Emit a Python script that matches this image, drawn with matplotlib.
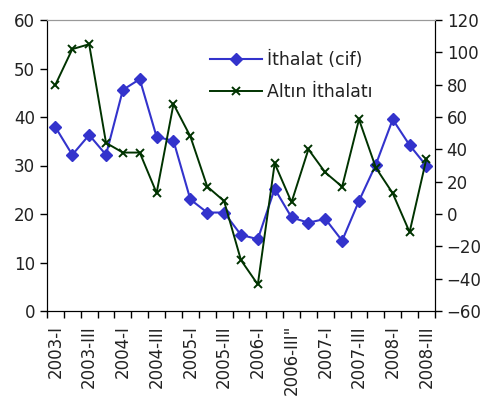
import numpy as np
import matplotlib.pyplot as plt
from matplotlib.ticker import FixedLocator

quarters = ["2003-I", "2003-II", "2003-III", "2003-IV",
            "2004-I", "2004-II", "2004-III", "2004-IV",
            "2005-I", "2005-II", "2005-III", "2005-IV",
            "2006-I", "2006-II", "2006-III\"", "2006-IV",
            "2007-I", "2007-II", "2007-III", "2007-IV",
            "2008-I", "2008-II", "2008-III"]

ithalat = [37.9, 32.2, 36.3, 32.2, 45.6, 47.8, 35.9, 35.1, 23.0, 20.3, 20.3, 15.7,
           14.8, 25.2, 19.3, 18.2, 19.0, 14.5, 22.7, 30.2, 39.5, 34.2, 29.9]

altin = [80, 102, 105, 44, 38, 38, 13, 68, 48, 17, 8, -28.5,
         -43.6, 31.3, 7.3, 40, 25.7, 16.9, 58.5, 28.6, 12.8, -11.2, 34.3]

plt.rcParams.update({'font.size': 11, 'font.family': 'DejaVu Sans'})

fig = plt.figure(figsize=(4.87, 4.0), dpi=100)
ax = fig.add_axes([0.0965, 0.2225, 0.7965, 0.7275])
ax2 = ax.twinx()

x = np.arange(len(quarters))
l1, = ax.plot(x, ithalat, color='#3333CC', marker='D', markersize=6.5, lw=1.5,
              label='İthalat (cif)')
l2, = ax2.plot(x, altin, color='#003300', marker='x', markersize=6, mew=1.4, lw=1.4,
               label='Altın İthalatı')

ax.set_xlim(-0.5, len(quarters) - 0.5)
ax.set_ylim(0, 60)
ax.set_yticks(range(0, 61, 10))
ax2.set_ylim(-60, 120)
ax2.set_yticks(range(-60, 121, 20))

ax.set_xticks(x[::2])
ax.set_xticklabels(quarters[::2], rotation=90, color='#222222', fontsize=12)
ax.xaxis.set_minor_locator(FixedLocator(np.arange(-0.5, len(quarters), 1)))
ax.tick_params(axis='x', which='major', length=0, pad=10)
ax.tick_params(axis='x', which='minor', length=5, direction='out', width=1)
ax.tick_params(axis='y', length=5, width=1, direction='out', labelsize=12, labelcolor='#222222')
ax2.tick_params(axis='y', length=5, width=1, direction='out', labelsize=12, labelcolor='#222222')

for a in (ax, ax2):
    a.spines['top'].set_color('#999999')
    a.spines['left'].set_color('black')
    a.spines['right'].set_color('black')
    a.spines['bottom'].set_color('black')

ax2.legend(handles=[l1, l2], loc='upper left', bbox_to_anchor=(0.42, 0.895),
           frameon=False, fontsize=12.5, handlelength=3.0, handletextpad=0.3,
           labelspacing=0.85, borderpad=0, borderaxespad=0, labelcolor='#222222')

fig.savefig('out.png', dpi=100)
